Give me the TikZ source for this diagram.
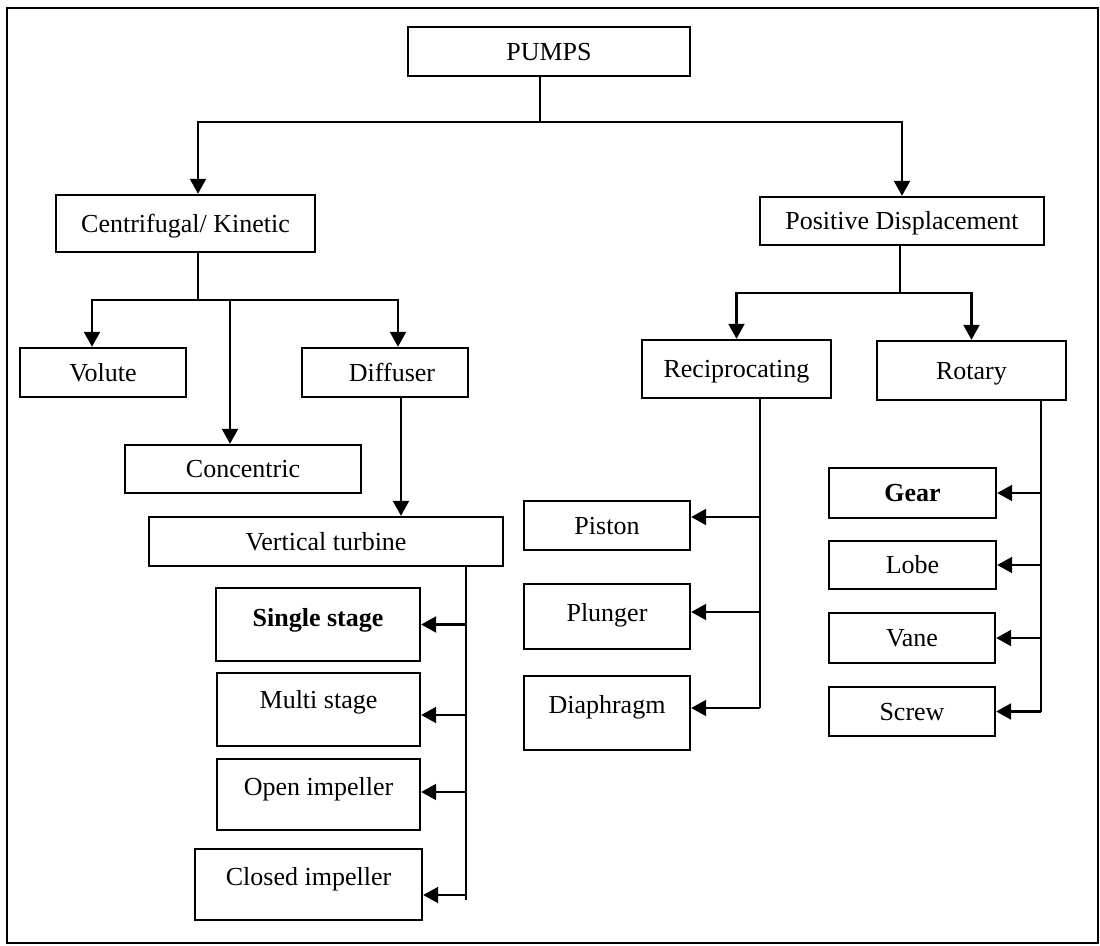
\documentclass[tikz,border=0pt]{standalone}
\usepackage{fontspec}
\setmainfont{Liberation Serif}
\usetikzlibrary{arrows.meta}

\tikzset{
  box/.style={draw, line width=1.2pt, inner sep=0pt, text height=11pt, text depth=2pt,
    font=\fontsize{13}{15}\selectfont},
  sz/.style 2 args={minimum width=#1, minimum height=#2},
  link/.style={line width=1.1pt},
  arr/.style={link, -{Triangle[length=7.5pt,width=8pt]}},
}

\begin{document}
\begin{tikzpicture}[x=0.5pt,y=-0.5pt]
   \useasboundingbox (0,0) rectangle (1100,946);
   \draw[line width=1pt] (7,8) rectangle (1098,943);

   % top levels
   \node[box,sz={141pt}{24.5pt}] (pumps) at (549,51.5) {PUMPS};
   \node[box,sz={129.5pt}{28.5pt}] (cent) at (185.5,223.5) {Centrifugal/ Kinetic};
   \node[box,sz={142pt}{24pt}] (pd) at (902,221) {Positive Displacement};

   % centrifugal side
   \node[box,sz={83pt}{24.5pt}] (volute) at (103,372.5) {Volute\hspace{19pt}};
   \node[box,sz={83pt}{24.5pt}] (diff) at (385,372.5) {\hspace{7pt}Diffuser};
   \node[box,sz={118pt}{24pt}] (conc) at (243,469) {Concentric};
   \node[box,sz={177pt}{24.5pt}] (vt) at (326,541.5) {Vertical turbine\hspace{41pt}};
   \node[box,sz={102pt}{36.5pt},text depth=9pt] (single) at (318,624.5) {\bfseries Single stage};
   \node[box,sz={101.5pt}{36.5pt},text depth=12pt] (multi) at (318.5,709.5) {Multi stage};
   \node[box,sz={101.5pt}{35.5pt},text depth=10pt] (open) at (318.5,794.5) {Open impeller};
   \node[box,sz={113.5pt}{35.5pt},text depth=10pt] (closed) at (308.5,884.5) {Closed impeller\hspace{9pt}};

   % positive displacement side
   \node[box,sz={94.5pt}{29pt}] (recip) at (736.5,369) {Reciprocating};
   \node[box,sz={94.5pt}{29.5pt}] (rot) at (971.5,370.5) {Rotary};
   \node[box,sz={83pt}{24.5pt}] (piston) at (607,525.5) {Piston};
   \node[box,sz={83pt}{32.5pt},text depth=6pt] (plunger) at (607,616.5) {Plunger};
   \node[box,sz={83pt}{37pt},text depth=10pt] (diaph) at (607,713) {Diaphragm};
   \node[box,sz={83.5pt}{25pt}] (gear) at (912.5,493) {\bfseries Gear};
   \node[box,sz={83.5pt}{24pt}] (lobe) at (912.5,565) {Lobe};
   \node[box,sz={83pt}{25pt}] (vane) at (912,638) {Vane};
   \node[box,sz={83pt}{24.5pt}] (screw) at (912,711.5) {Screw};

   % junctions
   \coordinate (pJ) at (540,122);
   \coordinate (cJ) at (198,300);
   \coordinate (pdJ) at (900,293);
   \coordinate (vtT) at (466,900);
   \coordinate (recT) at (760,708);
   \coordinate (rotT) at (1041,712);

   \draw[link] (pumps.south -| pJ) -- (pJ);
   \draw[arr] (pJ) -| ([xshift=6.25pt]cent.north);
   \draw[arr] (pJ) -| (pd.north);

   \draw[link] (cent.south -| cJ) -- (cJ);
   \draw[arr] (cJ) -| ([xshift=-5.5pt]volute.north);
   \draw[arr] (cJ) -| ([xshift=-6.5pt]conc.north);
   \draw[arr] (cJ) -| ([xshift=6.5pt]diff.north);

   \coordinate (dV) at ([xshift=8pt]diff.south);
   \draw[arr] (dV) -- (dV |- vt.north);

   \draw[link] (vt.south -| vtT) -- (vtT);
   \foreach \n/\dy in {single/0pt, multi/-2.75pt, open/1.25pt, closed/-5.25pt} {
      \coordinate (e) at ([yshift=\dy]\n.east);
      \draw[arr] (vtT |- e) -- (e);
   }

   \draw[link] (pd.south -| pdJ) -- (pdJ);
   \draw[arr] (pdJ) -| (recip.north);
   \draw[arr] (pdJ) -| (rot.north);

   \draw[link] (recip.south -| recT) -- (recT);
   \foreach \n/\dy in {piston/4.25pt, plunger/2.25pt, diaph/2.5pt} {
      \coordinate (e) at ([yshift=\dy]\n.east);
      \draw[arr] (recT |- e) -- (e);
   }

   \draw[link] (rot.south -| rotT) -- (rotT);
   \foreach \n in {gear, lobe, vane, screw}
      \draw[arr] (rotT |- \n.east) -- (\n.east);
\end{tikzpicture}
\end{document}
